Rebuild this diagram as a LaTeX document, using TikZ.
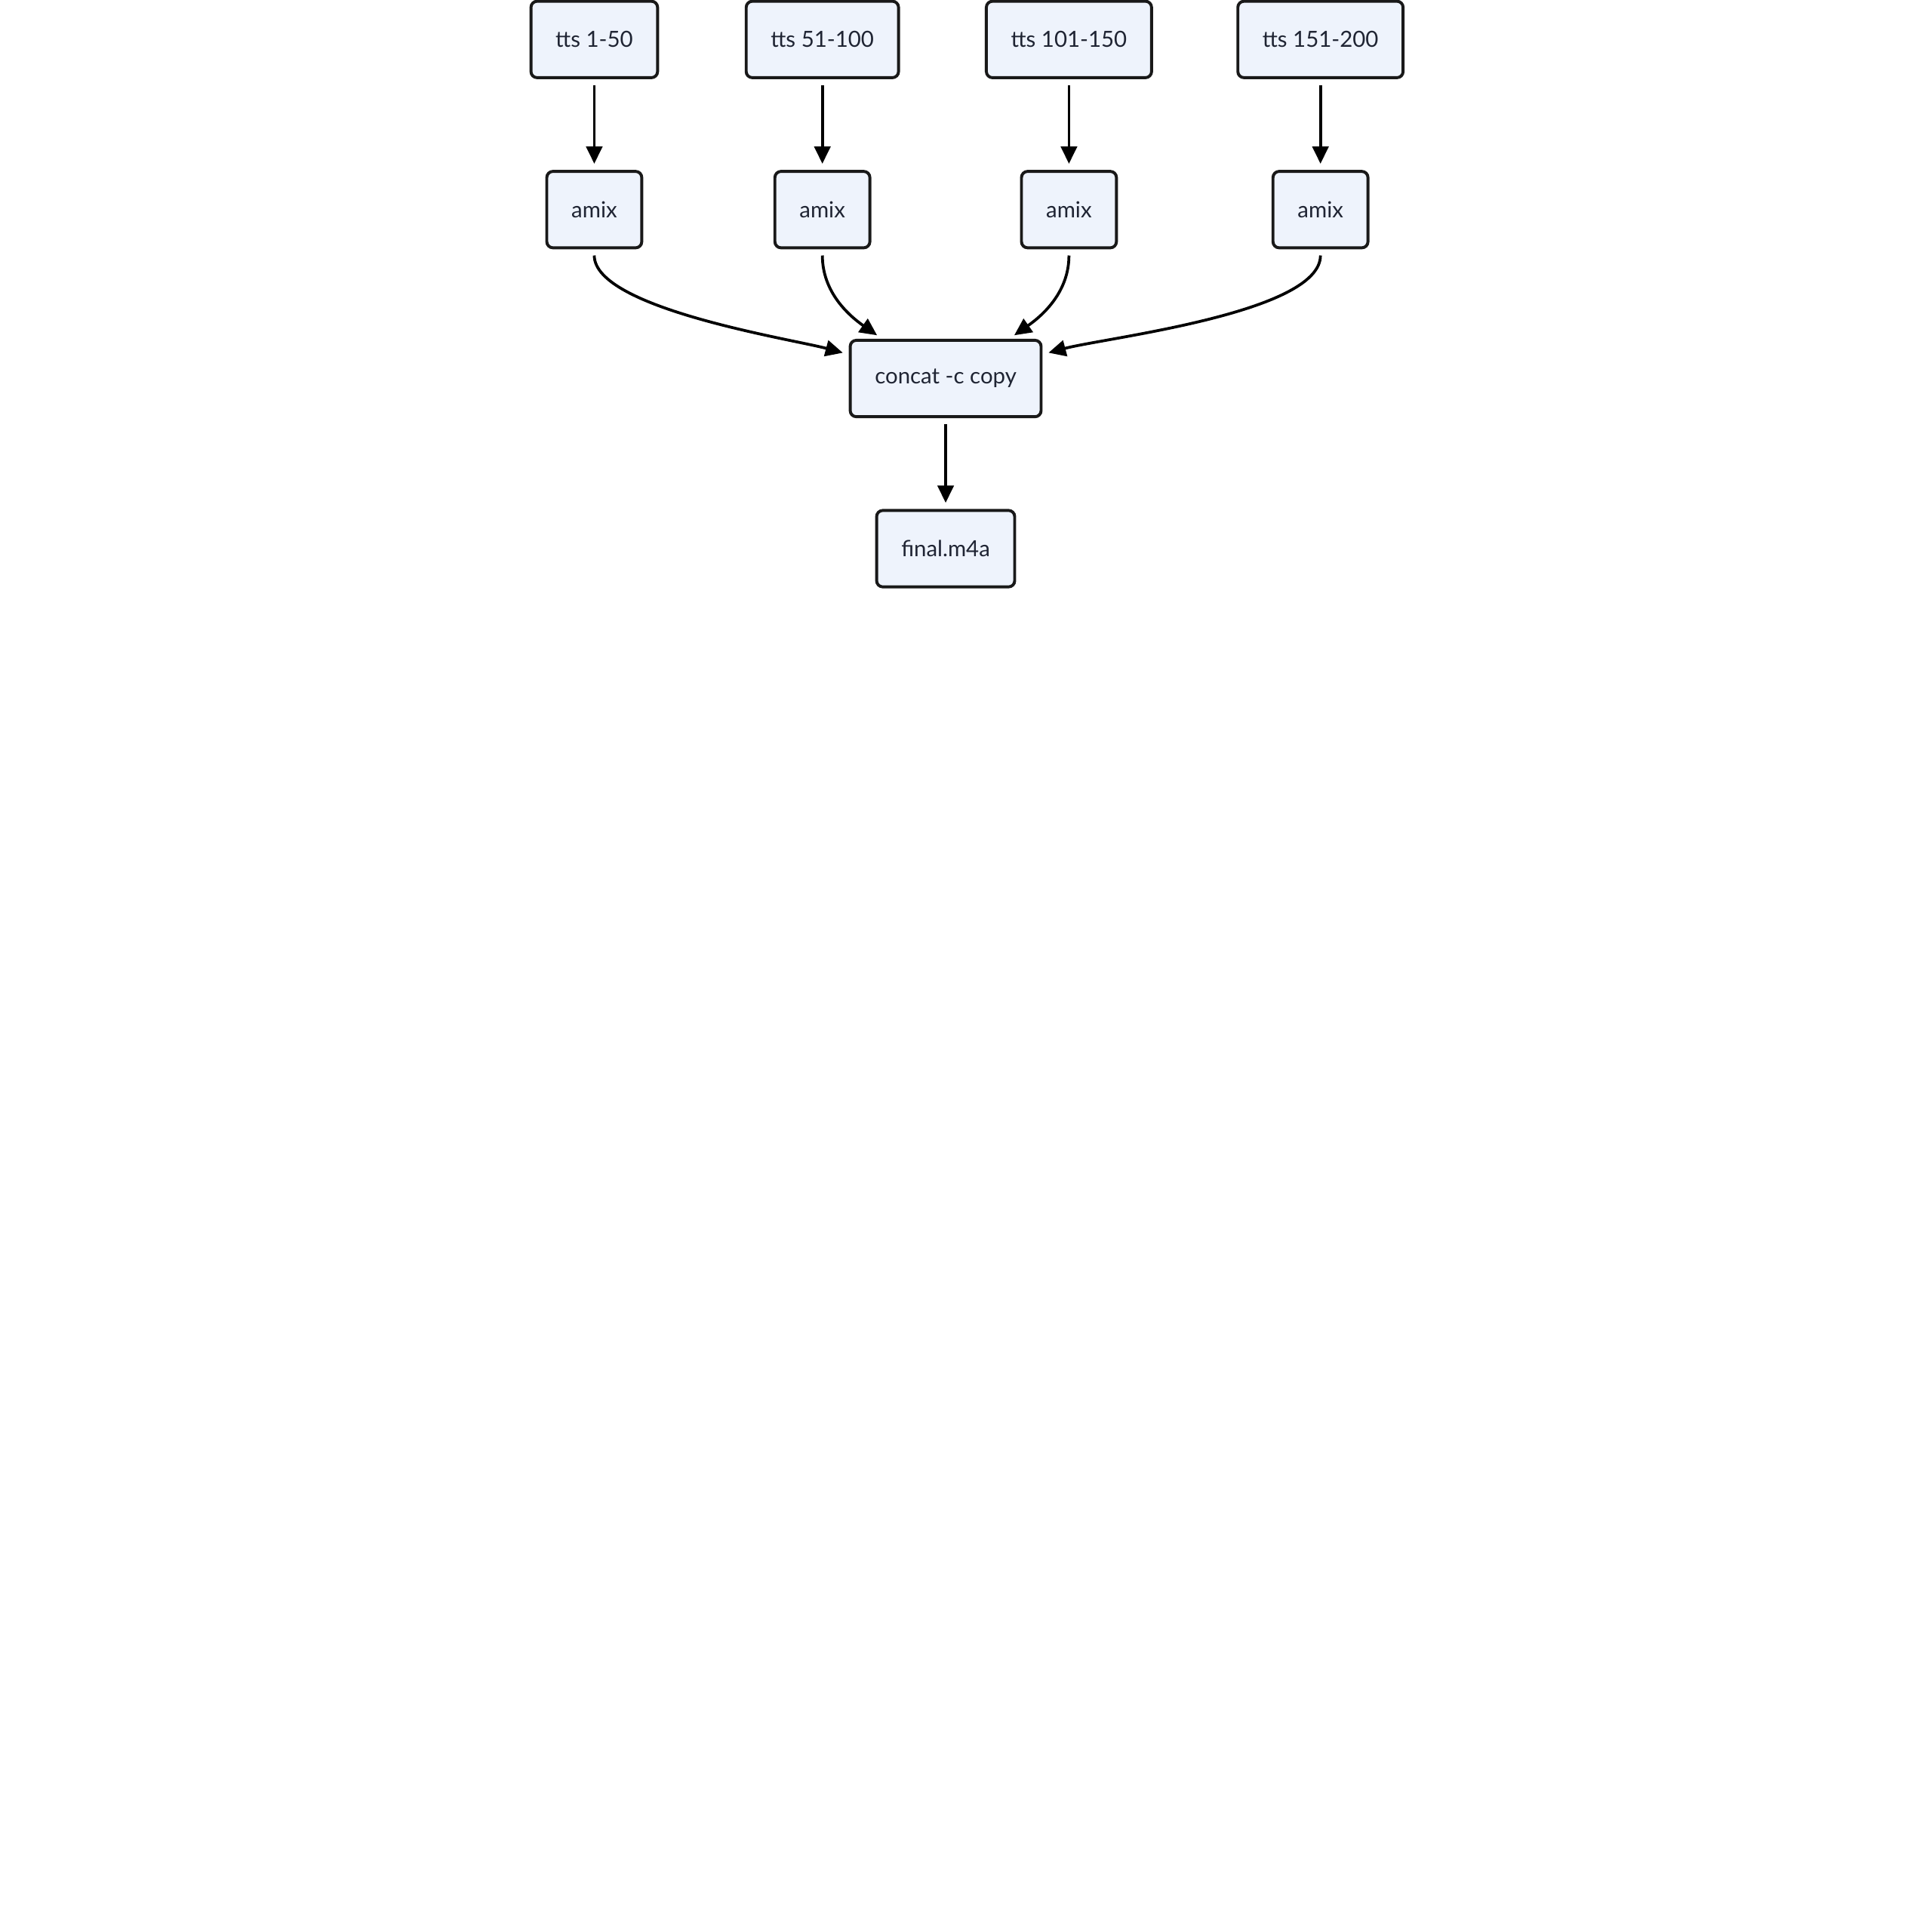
\documentclass[tikz,border=0pt]{standalone}
\usepackage{fontspec}
\setmainfont{Lato}
\usetikzlibrary{arrows.meta}
\definecolor{boxfill}{HTML}{EEF3FC}
\definecolor{boxtext}{HTML}{1F2433}
\begin{document}
\begin{tikzpicture}[
		x=1pt, y=1pt,
		>={Triangle[length=14pt,width=13pt]},
		stagebox/.style={rectangle,draw=black!90,fill=boxfill,text=boxtext,line width=2.4pt,
		rounded corners=5pt,minimum height=62pt,inner xsep=20pt,
		font=\fontsize{18}{21}\selectfont},
		flow/.style={->,line width=2.3pt,shorten <=5pt,shorten >=5pt},
		node distance=138pt
		]
		\useasboundingbox (0,0) rectangle (1567,-1567);

		\node[stagebox](tts1) at (482,-32){tts 1-50};
		\node[stagebox](tts2) at (667,-32){tts 51-100};
		\node[stagebox](tts3) at (867,-32){tts 101-150};
		\node[stagebox](tts4) at (1071,-32){tts 151-200};

		\node[stagebox, below of = tts1](amix1){amix};
		\node[stagebox, below of = tts2](amix2){amix};
		\node[stagebox, below of = tts3](amix3){amix};
		\node[stagebox, below of = tts4](amix4){amix};

		\node[stagebox](concat) at (767,-307){concat -c copy};
		\node[stagebox, below of = concat](final){final.m4a};

		\draw[flow] (tts1) -- (amix1);
		\draw[flow] (tts2) -- (amix2);
		\draw[flow] (tts3) -- (amix3);
		\draw[flow] (tts4) -- (amix4);

		\draw[flow] (amix1.south) to[out=-90, in=165, looseness=0.55] (concat.166);
		\draw[flow] (amix2.south) to[out=-90, in=145] (concat.148);
		\draw[flow] (amix3.south) to[out=-90, in=35] (concat.32);
		\draw[flow] (amix4.south) to[out=-90, in=15, looseness=0.55] (concat.14);

		\draw[flow] (concat) -- (final);
	\end{tikzpicture}
\end{document}
